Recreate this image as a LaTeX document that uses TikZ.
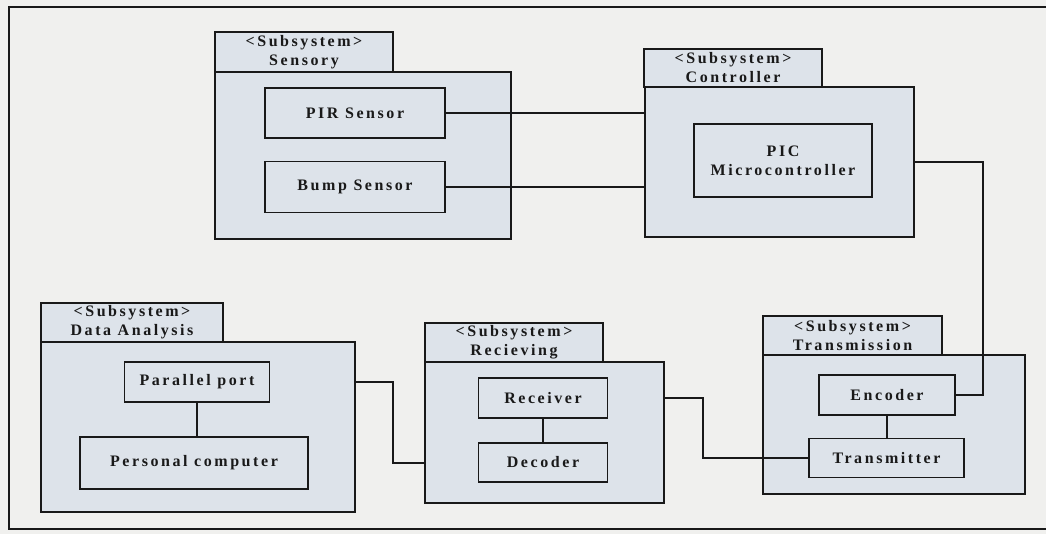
\documentclass[tikz,border=0pt]{standalone}
\usepackage{fontspec}
\setmainfont{Liberation Serif}[LetterSpace=16]
\definecolor{bg}{RGB}{240,240,238}
\definecolor{pk}{RGB}{221,227,234}
\definecolor{ln}{RGB}{25,25,25}
\begin{document}
\begin{tikzpicture}[x=1pt,y=-1pt,
  every node/.style={font=\bfseries\fontsize{16}{19}\selectfont, text=ln},
  pkgbody/.style={draw=ln, fill=pk, line width=1.7pt, inner sep=0pt, outer sep=0pt},
  pkgtab/.style={draw=ln, fill=pk, line width=1.7pt, inner sep=0pt, outer sep=0pt, align=center},
  part/.style={draw=ln, fill=pk, line width=1.7pt, inner sep=0pt, outer sep=0pt, align=center},
  wire/.style={draw=ln, line width=1.7pt}]
\fill[bg] (0,0) rectangle (1046,534);
\useasboundingbox (0,0) rectangle (1046,534);
\draw[ln, line width=1.7pt] (1046,7) -- (9,7) -- (9,529) -- (1046,529);

% Sensory
\node[pkgtab, minimum width=178pt, minimum height=40pt] (senst) at (304,52) {<Subsystem>\\Sensory};
\node[pkgbody, minimum width=296pt, minimum height=167pt] (sensb) at (363,155.5) {};
\node[part, minimum width=180pt, minimum height=50pt] (pir) at (355,113) {PIR Sensor};
\node[part, minimum width=180pt, minimum height=51pt] (bump) at (355,187) {Bump Sensor};

% Controller
\node[pkgtab, minimum width=178pt, minimum height=38pt] (ctrlt) at (733,68) {<Subsystem>\\Controller};
\node[pkgbody, minimum width=269pt, minimum height=150pt] (ctrlb) at (779.5,162) {};
\node[part, minimum width=178pt, minimum height=73pt] (pic) at (783,160.5) {PIC\\Microcontroller};

% Data Analysis
\node[pkgtab, minimum width=182pt, minimum height=39pt] (dat) at (132,322.5) {<Subsystem>\\Data Analysis};
\node[pkgbody, minimum width=314pt, minimum height=170pt] (dab) at (198,427) {};
\node[part, minimum width=145pt, minimum height=40pt] (pp) at (197,382) {Parallel port};
\node[part, minimum width=228pt, minimum height=52pt] (pc) at (194,463) {Personal computer};

% Recieving
\node[pkgtab, minimum width=178pt, minimum height=39pt] (rect) at (514,342.5) {<Subsystem>\\Recieving};
\node[pkgbody, minimum width=239pt, minimum height=141pt] (recb) at (544.5,432.5) {};
\node[part, minimum width=129pt, minimum height=40pt] (rcv) at (543,398) {Receiver};
\node[part, minimum width=129pt, minimum height=39pt] (dec) at (543,462.5) {Decoder};

% Transmission
\node[pkgtab, minimum width=179pt, minimum height=39pt] (trt) at (852.5,335.5) {<Subsystem>\\Transmission};
\node[pkgbody, minimum width=262pt, minimum height=139pt] (trb) at (894,424.5) {};
\node[part, minimum width=136pt, minimum height=40pt] (enc) at (887,395) {Encoder};
\node[part, minimum width=155pt, minimum height=39pt] (tx) at (886.5,458) {Transmitter};

% corners
\coordinate (k0) at (983,395);
\coordinate (k1) at (393,463);
\coordinate (k2) at (703,458);

% connectors
\draw[wire] (pir.east) -- (pir.east -| ctrlb.west);
\draw[wire] (bump.east) -- (bump.east -| ctrlb.west);
\draw[wire] (ctrlb.east) -| (k0) -- (enc.east);
\draw[wire] (pp.south) -- (pp.south |- pc.north);
\draw[wire] (rcv.south) -- (rcv.south |- dec.north);
\draw[wire] (enc.south) -- (enc.south |- tx.north);
\draw[wire] (dab.east |- pp.east) -| (k1) -- (k1 -| recb.west);
\draw[wire] (recb.east |- rcv.east) -| (k2) -- (tx.west);
\end{tikzpicture}
\end{document}
